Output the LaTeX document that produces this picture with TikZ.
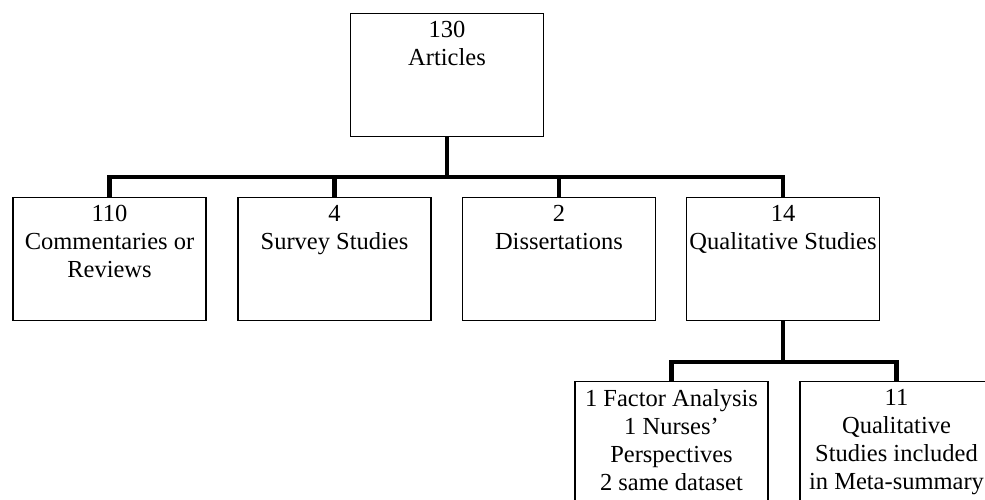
\documentclass[tikz,border=0pt]{standalone}
\usepackage{fontspec}
\setmainfont{Liberation Serif}
\usetikzlibrary{positioning}

\begin{document}
\begin{tikzpicture}[x=1pt, y=-1pt,
        box/.style={draw, line width=1.2pt, minimum width=193pt, minimum height=123pt, anchor=north, inner sep=0pt},
        txt/.style={align=center, inner sep=0pt, font=\fontsize{24.5}{28}\selectfont},
        link/.style={line width=4.5pt}]
        \clip (0,0) rectangle (985,500);
        % boxes
        \node[box] (art) at (447,13) {};
        \node[box] (com) at (109.5,197) {};
        \node[box] (sur) at (334.5,197) {};
        \node[box] (dis) at (559,197) {};
        \node[box] (qual) at (783,197) {};
        \node[box] (fac) at (671.5,381) {};
        \node[box] (meta) at (896.5,381) {};
        % texts
        \node[txt, below=8pt of art.north] (artT) {130\\Articles};
        \node[txt, below=8pt of com.north] (comT) {110\\Commentaries or\\Reviews};
        \node[txt, below=8pt of sur.north] (surT) {4\\Survey Studies};
        \node[txt, below=8pt of dis.north] (disT) {2\\Dissertations};
        \node[txt, below=8pt of qual.north] (qualT) {14\\Qualitative Studies};
        \node[txt, below=8pt of fac.north] (facT) {1 Factor Analysis\\1 Nurses'\\Perspectives\\2 same dataset};
        \node[txt, below=8pt of meta.north] (metaT) {11\\Qualitative\\Studies included\\in Meta-summary};
        % links
        \coordinate (bus1) at (447,177);
        \coordinate (bus2) at (783,362);
        \draw[link] (art.south) -- (bus1);
        \draw[link] (com.north) -- (com.north |- bus1) -- (qual.north |- bus1) -- (qual.north);
        \draw[link] (sur.north) -- (sur.north |- bus1);
        \draw[link] (dis.north) -- (dis.north |- bus1);
        \draw[link] (qual.south) -- (bus2);
        \draw[link] (fac.north) -- (fac.north |- bus2) -- (meta.north |- bus2) -- (meta.north);
      \end{tikzpicture}
\end{document}
